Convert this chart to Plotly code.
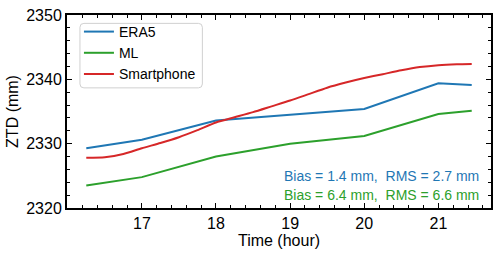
import plotly.graph_objects as go

# ERA5 and ML (hourly-ish knots)
t_model = [16.25, 17, 18, 19, 20, 21, 21.45]
era5 = [2329.3, 2330.6, 2333.6, 2334.5, 2335.4, 2339.4, 2339.1]
ml = [2323.5, 2324.8, 2328.0, 2330.0, 2331.2, 2334.6, 2335.1]

# Smartphone (15-min)
t_phone = [16.25, 16.5, 16.75, 17, 17.25, 17.5, 17.75, 18, 18.25, 18.5, 18.75,
           19, 19.25, 19.5, 19.75, 20, 20.25, 20.5, 20.75, 21, 21.25, 21.45]
phone = [2327.8, 2327.9, 2328.4, 2329.3, 2330.1, 2331.0, 2332.1, 2333.3, 2334.1,
         2334.9, 2335.8, 2336.7, 2337.7, 2338.7, 2339.5, 2340.2, 2340.8, 2341.4,
         2341.9, 2342.2, 2342.35, 2342.4]

stats_text = ["Bias = 1.4 mm,  RMS = 2.7 mm", "Bias = 6.4 mm,  RMS = 6.6 mm"]

blue, green, red = "#1f77b4", "#2ca02c", "#d62728"
FONT = "Liberation Sans"

W, H = 500, 255
ML_, MR_, MT_, MB_ = 67, 7, 12, 47
PW, PH = W - ML_ - MR_, H - MT_ - MB_


def px2paper(x, y):
    return (x - ML_) / PW, 1 - (y - MT_) / PH


fig = go.Figure()
fig.add_trace(go.Scatter(x=t_model, y=era5, mode="lines", name="ERA5",
                         line=dict(color=blue, width=2)))
fig.add_trace(go.Scatter(x=t_model, y=ml, mode="lines", name="ML",
                         line=dict(color=green, width=2)))
fig.add_trace(go.Scatter(x=t_phone, y=phone, mode="lines", name="Smartphone",
                         line=dict(color=red, width=2, shape="spline", smoothing=0.6)))

axis_common = dict(showline=True, linecolor="black", linewidth=2, mirror="allticks",
                   ticks="inside", ticklen=5, tickwidth=1.2, tickcolor="black",
                   showgrid=False, zeroline=False,
                   tickfont=dict(family=FONT, size=16, color="black"))

fig.update_xaxes(range=[15.99, 21.71], tickvals=[17, 18, 19, 20, 21],
                 minor=dict(dtick=0.2, tick0=0, ticks="inside", ticklen=3, tickwidth=1, tickcolor="black"),
                 title=dict(text="Time (hour)", font=dict(family=FONT, size=16, color="black"), standoff=2),
                 **axis_common)
fig.update_yaxes(range=[2320, 2350], tickvals=[2320, 2330, 2340, 2350],
                 minor=dict(dtick=2, tick0=2320, ticks="inside", ticklen=3, tickwidth=1, tickcolor="black"),
                 title=dict(text="ZTD (mm)", font=dict(family=FONT, size=16, color="black"), standoff=4),
                 **axis_common)

ax_r, _ = px2paper(483, 0)
fig.add_annotation(x=ax_r, y=0.168, xref="paper", yref="paper", xanchor="right", yanchor="middle",
                   text=stats_text[0], showarrow=False, font=dict(family=FONT, size=14, color=blue))
fig.add_annotation(x=ax_r, y=0.066, xref="paper", yref="paper", xanchor="right", yanchor="middle",
                   text=stats_text[1], showarrow=False, font=dict(family=FONT, size=14, color=green))

# rounded legend frame
x0, y0 = px2paper(80, 20.5)
x1, y1 = px2paper(203, 86)
r = 4
rx, ry = r / PW, r / PH
path = (f"M {x0+rx},{y0} L {x1-rx},{y0} Q {x1},{y0} {x1},{y0-ry} "
        f"L {x1},{y1+ry} Q {x1},{y1} {x1-rx},{y1} L {x0+rx},{y1} Q {x0},{y1} {x0},{y1+ry} "
        f"L {x0},{y0-ry} Q {x0},{y0} {x0+rx},{y0} Z")
fig.add_shape(type="path", path=path, xref="paper", yref="paper",
              line=dict(color="#d0d0d0", width=1), fillcolor="rgba(255,255,255,0.8)", layer="above")

lx, ly = px2paper(79, 13)
fig.update_layout(
    width=W, height=H,
    margin=dict(l=ML_, r=MR_, t=MT_, b=MB_),
    paper_bgcolor="white", plot_bgcolor="white",
    font=dict(family=FONT, color="black"),
    legend=dict(x=lx, y=ly, xanchor="left", yanchor="top",
                bgcolor="rgba(0,0,0,0)", borderwidth=0,
                font=dict(family=FONT, size=14, color="black"),
                tracegroupgap=0),
    showlegend=True,
)

fig.write_html("out.html", config={"displayModeBar": False},
               post_script="document.body.style.margin='0';")
